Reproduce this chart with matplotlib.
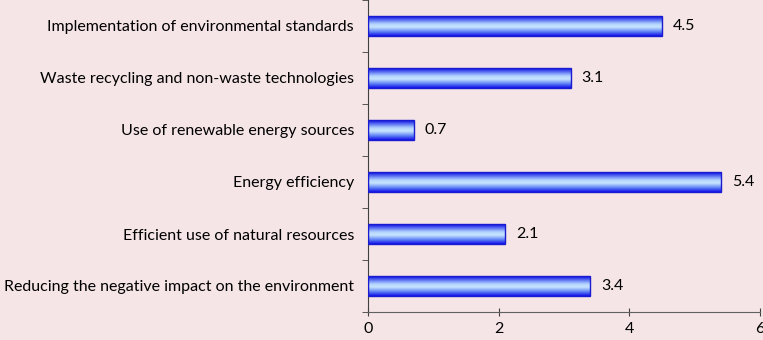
import matplotlib.pyplot as plt
import numpy as np
from matplotlib.colors import LinearSegmentedColormap

categories = [
    "Reducing the negative impact on the environment",
    "Efficient use of natural resources",
    "Energy efficiency",
    "Use of renewable energy sources",
    "Waste recycling and non-waste technologies",
    "Implementation of environmental standards",
]
values = [3.4, 2.1, 5.4, 0.7, 3.1, 4.5]
xticks = [0, 2, 4, 6]

bg = "#f6e5e7"
plt.rcParams['font.family'] = ['Lato', 'DejaVu Sans']
fs = 11.5

fig = plt.figure(figsize=(7.63, 3.40), dpi=100, facecolor=bg)
ax = fig.add_axes([368 / 763, 28 / 340, 392 / 763, 312 / 340])
ax.set_facecolor(bg)

# cylinder-like gradient: dark blue at edges, pale in the middle
cmap = LinearSegmentedColormap.from_list(
    "cyl", [(0.0, "#1010e8"), (0.2, "#5a7cf5"), (0.45, "#c9e6ff"),
            (0.6, "#b5d6ff"), (0.85, "#4a5cf0"), (1.0, "#0a0adc")])
grad = np.linspace(0, 1, 64).reshape(-1, 1)

h = 0.38
ypos = np.arange(len(categories))
bars = ax.barh(ypos, values, height=h, color="none", edgecolor="#1a1ad0", linewidth=1.0, zorder=3)
for b in bars:
    x0, y0, w, hh = b.get_x(), b.get_y(), b.get_width(), b.get_height()
    ax.imshow(grad, cmap=cmap, aspect="auto", extent=(x0, x0 + w, y0 + hh, y0),
              origin="upper", zorder=2, interpolation="bicubic")

for y, v in zip(ypos, values):
    ax.annotate(f"{v}", (v, y), xytext=(8, 0), textcoords="offset points",
                va="center", ha="left", fontsize=fs, color="#000000")

ax.set_xlim(0, 6)
ax.set_ylim(-0.5, len(categories) - 0.5)
ax.set_xticks(xticks)
ax.set_xticklabels([str(t) for t in xticks], fontsize=fs)
ax.set_yticks(ypos)
ax.set_yticklabels(categories, fontsize=fs)
ax.set_yticks(np.arange(-0.5, len(categories), 1), minor=True)
ax.tick_params(axis="y", which="major", length=0, pad=10)
ax.tick_params(axis="y", which="minor", length=4, direction="out", color="#404040")
ax.tick_params(axis="x", length=6, direction="inout", color="#404040", pad=4)

for s in ["top", "right"]:
    ax.spines[s].set_visible(False)
ax.spines["left"].set_color("#404040")
ax.spines["bottom"].set_color("#606060")

fig.savefig("out.png", dpi=100, facecolor=bg)
